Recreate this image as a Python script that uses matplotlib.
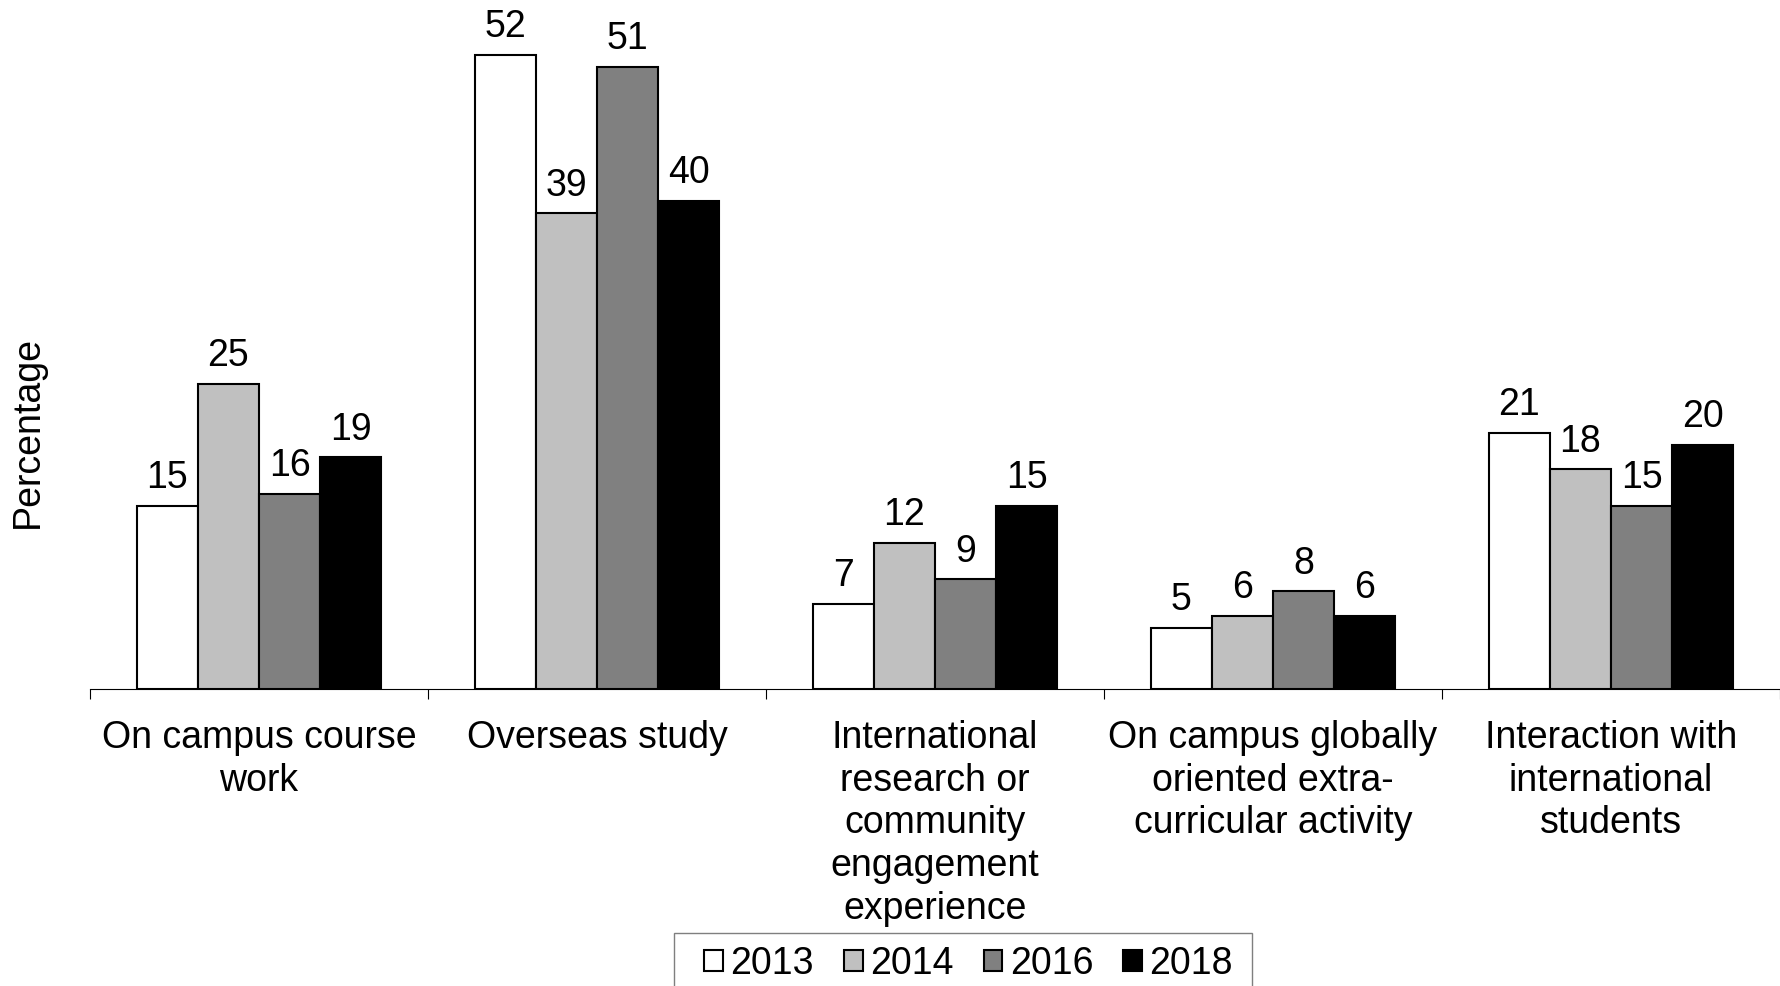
import matplotlib
matplotlib.use("Agg")
import matplotlib.pyplot as plt
import numpy as np
from matplotlib.patches import Rectangle

plt.rcParams['font.family'] = ['Liberation Sans', 'DejaVu Sans']

categories = ["On campus course\nwork", "Overseas study",
              "International\nresearch or\ncommunity\nengagement\nexperience",
              "On campus globally\noriented extra-\ncurricular activity",
              "Interaction with\ninternational\nstudents"]
years = ["2013", "2014", "2016", "2018"]
v2013 = [15, 52, 7, 5, 21]
v2014 = [25, 39, 12, 6, 18]
v2016 = [16, 51, 9, 8, 15]
v2018 = [19, 40, 15, 6, 20]
series = [v2013, v2014, v2016, v2018]
colors = ["#ffffff", "#c0c0c0", "#808080", "#000000"]

W, H = 1780, 986
fig = plt.figure(figsize=(W / 100, H / 100), dpi=100)
ax = fig.add_axes([90 / W, 1 - 689 / H, 1 - 90 / W, 689 / H])

x = np.arange(len(categories))
bw = 0.181
fs = 27
for i, (vals, c) in enumerate(zip(series, colors)):
    pos = x + (i - 1.5) * bw
    bars = ax.bar(pos, vals, width=bw, color=c, edgecolor="black", linewidth=1.5,
                  label=years[i], zorder=3)
    for b, v in zip(bars, vals):
        ax.annotate(str(v), (b.get_x() + b.get_width() / 2, b.get_height()),
                    xytext=(0, 7), textcoords="offset points", ha="center",
                    va="bottom", fontsize=fs)

ax.set_xlim(-0.5, len(categories) - 0.5)
ax.set_ylim(0, 56.5)
for s in ["left", "top", "right"]:
    ax.spines[s].set_visible(False)
ax.spines["bottom"].set_linewidth(0.8)
ax.set_yticks([])
ax.set_xticks(x)
ax.set_xticklabels(categories, fontsize=fs, linespacing=1.235)
ax.tick_params(axis="x", which="major", length=0, pad=22.5)
ax.set_xticks(np.arange(len(categories) + 1) - 0.5, minor=True)
ax.tick_params(axis="x", which="minor", length=7.2, width=0.8, direction="out")

fig.text(28 / W, 1 - 432 / H, "Percentage", rotation=90, ha="center", va="center",
         fontsize=fs)

# legend frame
fig.patches.append(Rectangle((674 / W, 1 - 1000 / H), (1252 - 674) / W, (1000 - 933) / H,
                             transform=fig.transFigure, facecolor="none",
                             edgecolor="#7f7f7f", linewidth=1, zorder=5))
leg = fig.legend(loc="center left", bbox_to_anchor=(704 / W, 1 - 964 / H), ncol=4,
                 frameon=False, fontsize=fs, handlelength=0.5, handleheight=0.5,
                 handletextpad=0.2, columnspacing=0.8, borderpad=0, borderaxespad=0)

fig.savefig("out.png", dpi=100)
